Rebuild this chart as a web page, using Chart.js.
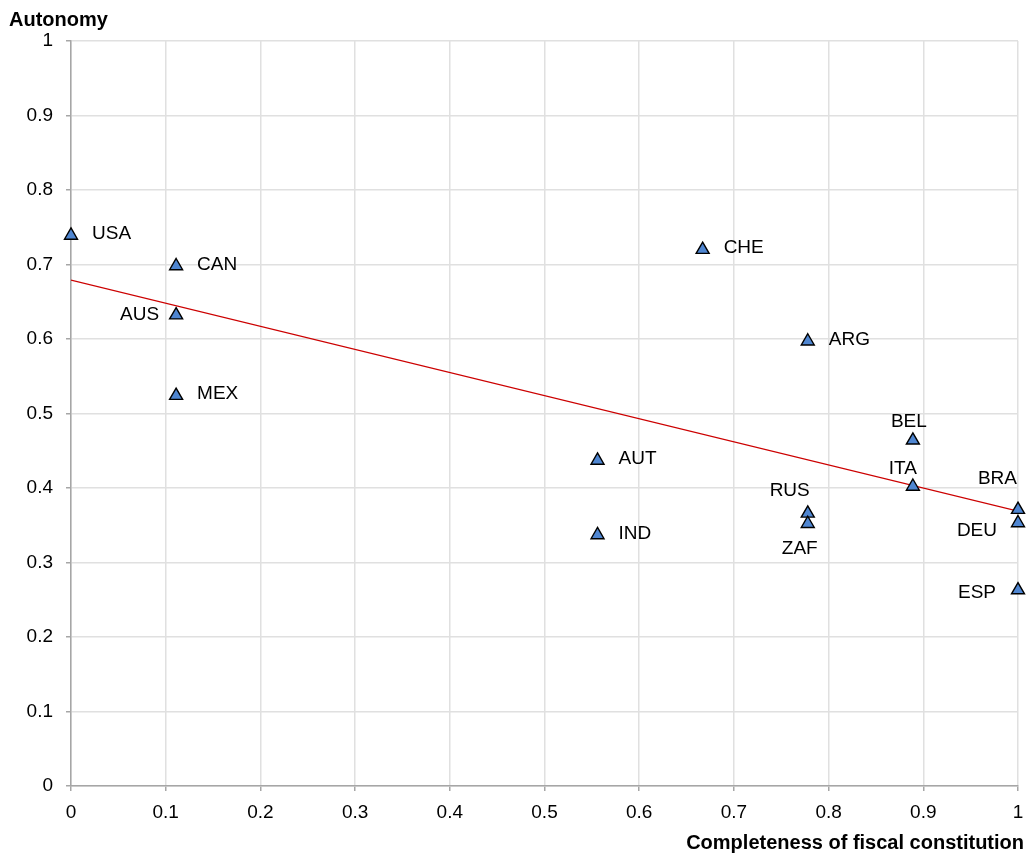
<!DOCTYPE html>
<html>
<head>
<meta charset="utf-8">
<script src="https://cdn.jsdelivr.net/npm/chart.js@4.4.1/dist/chart.umd.min.js"></script>
<style>
  html, body { margin: 0; padding: 0; background: #fff; }
  #wrap { width: 1036px; height: 854px; }
</style>
</head>
<body>
<div id="wrap"><canvas id="myChart" width="1036" height="854"></canvas></div>
<script>
// data
const countries = ['USA', 'CAN', 'AUS', 'MEX', 'CHE', 'ARG', 'BEL', 'ITA', 'BRA', 'DEU', 'ESP', 'AUT', 'IND', 'RUS', 'ZAF'];
const completeness = [0, 0.111, 0.111, 0.111, 0.667, 0.778, 0.889, 0.889, 1, 1, 1, 0.556, 0.556, 0.778, 0.778];
const autonomy = [0.739, 0.698, 0.632, 0.524, 0.720, 0.597, 0.464, 0.402, 0.371, 0.353, 0.263, 0.437, 0.337, 0.366, 0.352];
// linear trend line ends
const trendX = [0, 1];
const trendY = [0.679, 0.369];
const xTicks = [0, 0.1, 0.2, 0.3, 0.4, 0.5, 0.6, 0.7, 0.8, 0.9, 1];
const yTicks = [0, 0.1, 0.2, 0.3, 0.4, 0.5, 0.6, 0.7, 0.8, 0.9, 1];

const FONT = '"Liberation Sans", Arial, sans-serif';

// where each country name sits next to its marker (pixel offsets, text align)
const labelPlace = {
  USA: [21, -1.5, 'left'], CAN: [21, -1.5, 'left'], MEX: [21, -1.5, 'left'],
  CHE: [21, -1.5, 'left'], ARG: [21, -1.5, 'left'], AUT: [21, -1.5, 'left'], IND: [21, -1.5, 'left'],
  AUS: [-17, 0, 'right'],
  BEL: [-4, -18.5, 'center'], ITA: [-10, -17.5, 'center'],
  BRA: [-1, -31, 'right'], DEU: [-21, 7.5, 'right'], ESP: [-22, 2.5, 'right'],
  RUS: [2, -23, 'right'], ZAF: [-8, 25, 'center']
};

const pointLabels = {
  id: 'pointLabels',
  afterDatasetsDraw(chart) {
    const ctx = chart.ctx;
    const meta = chart.getDatasetMeta(0);
    ctx.save();
    ctx.font = '19px ' + FONT;
    ctx.fillStyle = '#000';
    ctx.textBaseline = 'middle';
    meta.data.forEach((pt, i) => {
      const p = labelPlace[countries[i]];
      ctx.textAlign = p[2];
      ctx.fillText(countries[i], pt.x + p[0], pt.y + p[1]);
    });
    ctx.restore();
  }
};

const axisTitles = {
  id: 'axisTitles',
  afterDraw(chart) {
    const ctx = chart.ctx;
    ctx.save();
    ctx.font = 'bold 20px ' + FONT;
    ctx.fillStyle = '#000';
    ctx.textBaseline = 'middle';
    ctx.textAlign = 'left';
    ctx.fillText('Autonomy', 9, 20);
    ctx.textAlign = 'right';
    ctx.fillText('Completeness of fiscal constitution', 1024, 843);
    ctx.restore();
  }
};

const ctx = document.getElementById('myChart').getContext('2d');
new Chart(ctx, {
  type: 'scatter',
  data: {
    datasets: [
      {
        label: 'Countries',
        data: countries.map((c, i) => ({ x: completeness[i], y: autonomy[i] })),
        pointStyle: 'triangle',
        pointRadius: 7.5,
        pointHoverRadius: 7.5,
        backgroundColor: '#4f86d1',
        borderColor: '#000',
        borderWidth: 1.4,
        clip: false
      },
      {
        type: 'line',
        label: 'Trend',
        data: trendX.map((x, i) => ({ x: x, y: trendY[i] })),
        borderColor: '#cc0000',
        borderWidth: 1.2,
        pointRadius: 0,
        fill: false
      }
    ]
  },
  options: {
    responsive: false,
    animation: false,
    layout: { padding: { top: 41, right: 18, left: 0, bottom: 0 } },
    plugins: {
      legend: { display: false },
      tooltip: { enabled: false }
    },
    scales: {
      x: {
        type: 'linear',
        min: 0,
        max: 1,
        afterBuildTicks: (axis) => { axis.ticks = xTicks.map(v => ({ value: v })); },
        afterFit: (axis) => { axis.height = 854 - 786; },
        grid: { color: '#e0e0e0', lineWidth: 1.5, tickColor: '#a6a6a6', tickLength: 5 },
        border: { color: '#a6a6a6', width: 1.5 },
        ticks: { color: '#000', font: { family: FONT, size: 19 }, padding: 10, maxRotation: 0, callback: v => String(v) }
      },
      y: {
        type: 'linear',
        min: 0,
        max: 1,
        afterBuildTicks: (axis) => { axis.ticks = yTicks.map(v => ({ value: v })); },
        afterFit: (axis) => { axis.width = 71; },
        grid: { color: '#e0e0e0', lineWidth: 1.5, tickColor: '#a6a6a6', tickLength: 5 },
        border: { color: '#a6a6a6', width: 1.5 },
        ticks: { color: '#000', font: { family: FONT, size: 19 }, padding: 13, callback: v => String(v) }
      }
    }
  },
  plugins: [pointLabels, axisTitles]
});
</script>
</body>
</html>
